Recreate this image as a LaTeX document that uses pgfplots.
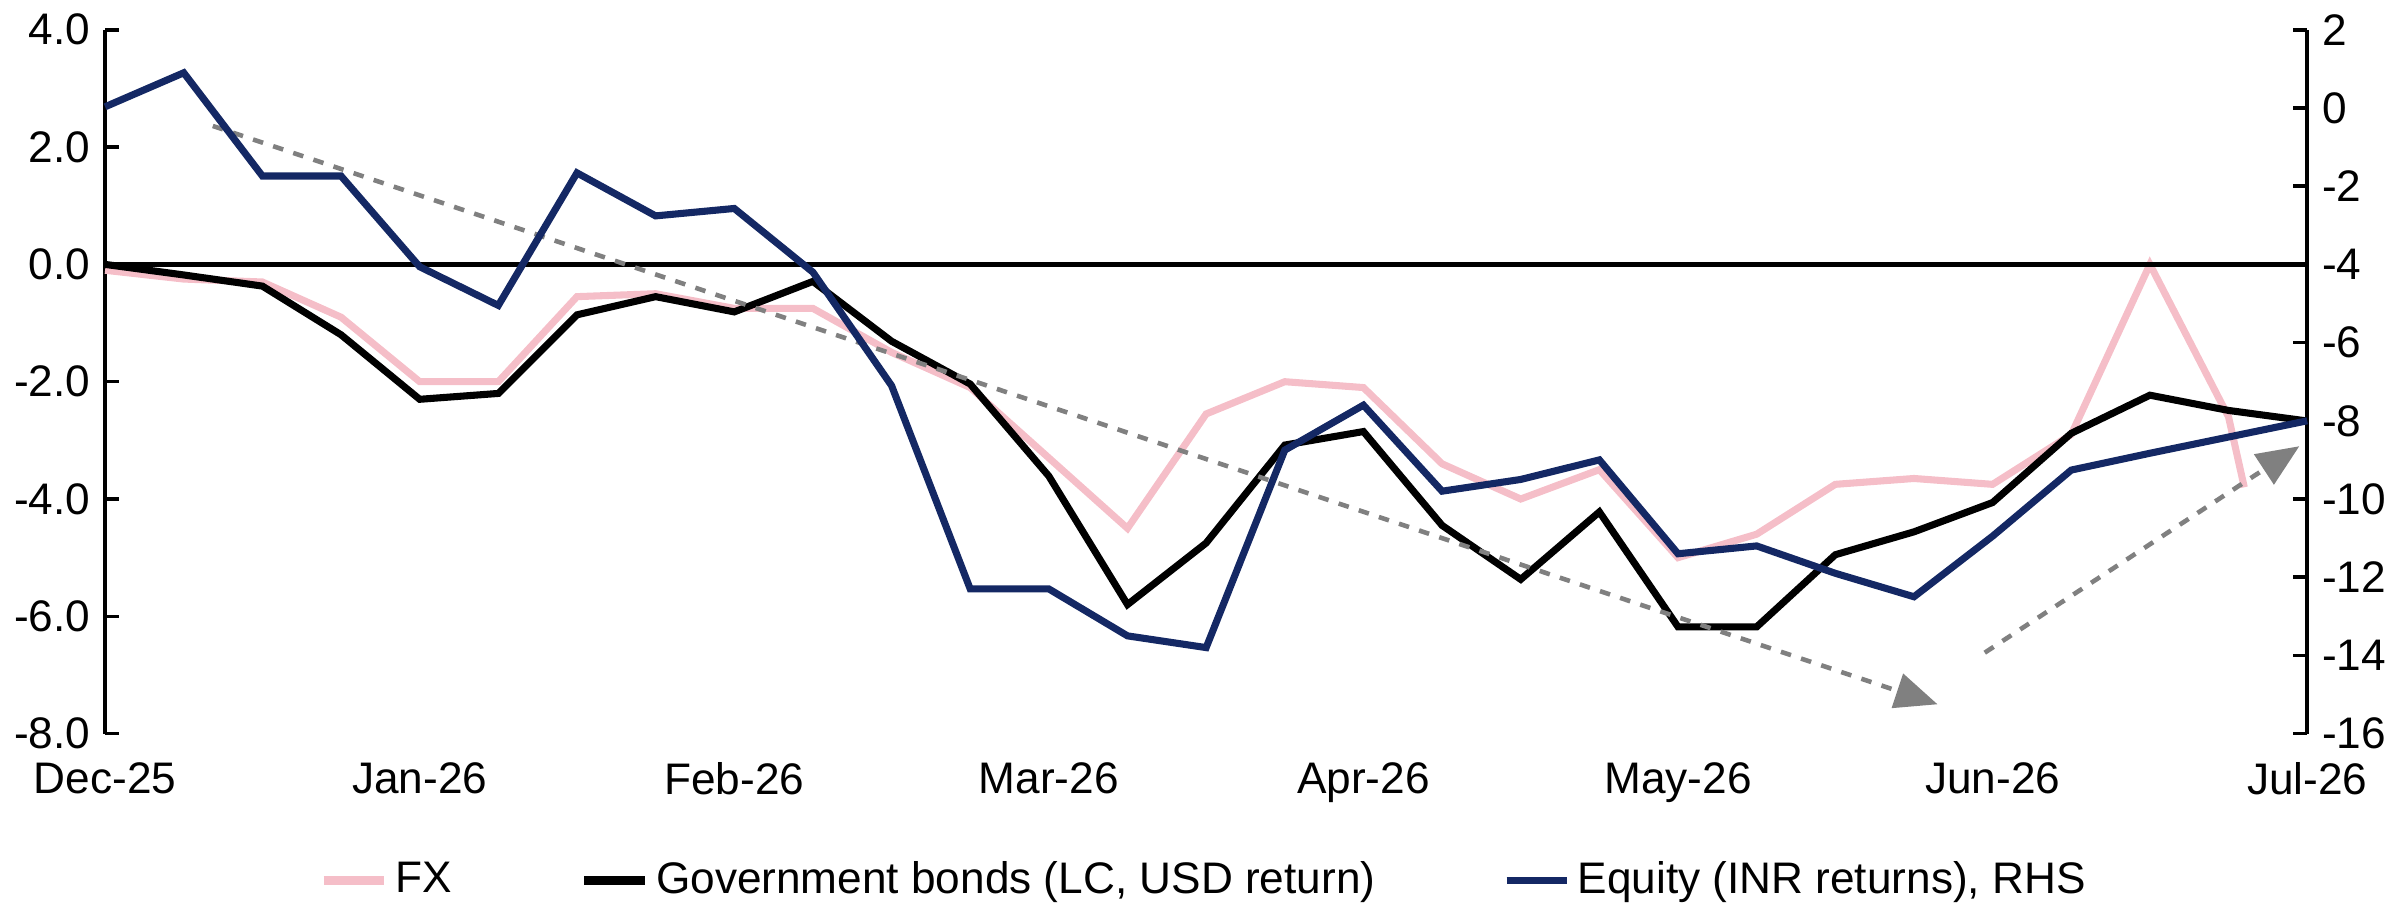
\documentclass[border=0pt]{standalone}
\usepackage{pgfplots}
\pgfplotsset{compat=1.18}
\usepackage{fontspec}
\setmainfont{Liberation Sans}
\usetikzlibrary{arrows.meta}
\definecolor{fxc}{RGB}{245,190,200}
\definecolor{eqc}{RGB}{20,40,100}
\begin{document}
\fontsize{12}{14}\selectfont
\begin{tikzpicture}
\pgfplotsset{every axis/.append style={scale only axis,width=21.9cm,height=7.0cm,xmin=0,xmax=28,
 /pgf/number format/assume math mode=true, tick label style={font=\fontsize{12.5}{14}\selectfont}}}
\begin{axis}[
 axis y line*=left, axis x line*=bottom, x axis line style={draw=none},
 xtick={0,4,...,28}, xticklabels={Dec-25,Jan-26,Feb-26,Mar-26,Apr-26,May-26,Jun-26,Jul-26},
 x tick style={draw=none}, xticklabel style={yshift=-4pt},
 ymin=-8,ymax=4,ytick={-8,-6,...,4},
 yticklabel style={/pgf/number format/.cd,fixed,fixed zerofill,precision=1},
 y axis line style={line width=1.2pt}, major tick length=4pt, y tick style={black,line width=1pt},
 clip=false]
\addplot[fxc,line width=2pt] coordinates {(0,-0.1)(1,-0.25)(2,-0.3)(3,-0.9)(4,-2.0)(5,-2.0)(6,-0.55)(7,-0.5)(8,-0.75)(9,-0.75)(10,-1.5)(11,-2.1)(12,-3.3)(13,-4.5)(14,-2.55)(15,-2.0)(16,-2.1)(17,-3.4)(18,-4.0)(19,-3.5)(20,-5.0)(21,-4.6)(22,-3.75)(23,-3.65)(24,-3.75)(25,-2.9)(26,0.0)(27,-2.6)(27.2,-3.8)};
\addplot[black,line width=2pt] coordinates {(0,0)(1,-0.18)(2,-0.37)(3,-1.2)(4,-2.3)(5,-2.2)(6,-0.86)(7,-0.55)(8,-0.81)(9,-0.29)(10,-1.31)(11,-2.04)(12,-3.61)(13,-5.8)(14,-4.75)(15,-3.08)(16,-2.85)(17,-4.45)(18,-5.37)(19,-4.22)(20,-6.18)(21,-6.18)(22,-4.95)(23,-4.56)(24,-4.06)(25,-2.88)(26,-2.23)(27,-2.49)(28,-2.67)};
\draw[black,line width=1.2pt] (axis cs:0,0) -- (axis cs:28,0);
\draw[gray,dashed,line width=1.3pt,-{Triangle[length=12pt,width=10pt]}] (axis cs:1.37,2.36) -- (axis cs:23.3,-7.5);
\draw[gray,dashed,line width=1.3pt,-{Triangle[length=12pt,width=10pt]}] (axis cs:23.9,-6.62) -- (axis cs:27.9,-3.1);
\end{axis}
\begin{axis}[
 axis y line*=right, axis x line=none,
 ymin=-16,ymax=2,ytick={-16,-14,...,2},
 y axis line style={line width=1.2pt}, major tick length=4pt, y tick style={black,line width=1pt},
 legend style={at={(0.5,-0.16)},anchor=north,draw=none,legend columns=3,font=\fontsize{12.5}{14}\selectfont,
 /tikz/every even column/.append style={column sep=1.2cm}},
 clip=false]
\addlegendimage{fxc,line width=2.5pt}\addlegendentry{FX}
\addlegendimage{black,line width=2.5pt}\addlegendentry{Government bonds (LC, USD return)}
\addplot[eqc,line width=2pt] coordinates {(0,0.03)(1,0.9)(2,-1.74)(3,-1.74)(4,-4.06)(5,-5.05)(6,-1.66)(7,-2.76)(8,-2.57)(9,-4.2)(10,-7.1)(11,-12.3)(12,-12.3)(13,-13.5)(14,-13.8)(15,-8.75)(16,-7.6)(17,-9.8)(18,-9.5)(19,-9.0)(20,-11.4)(21,-11.2)(22,-11.9)(23,-12.5)(24,-10.95)(25,-9.26)(26,-8.83)(28,-8.0)};
\addlegendentry{Equity (INR returns), RHS}
\end{axis}
\end{tikzpicture}
\end{document}
